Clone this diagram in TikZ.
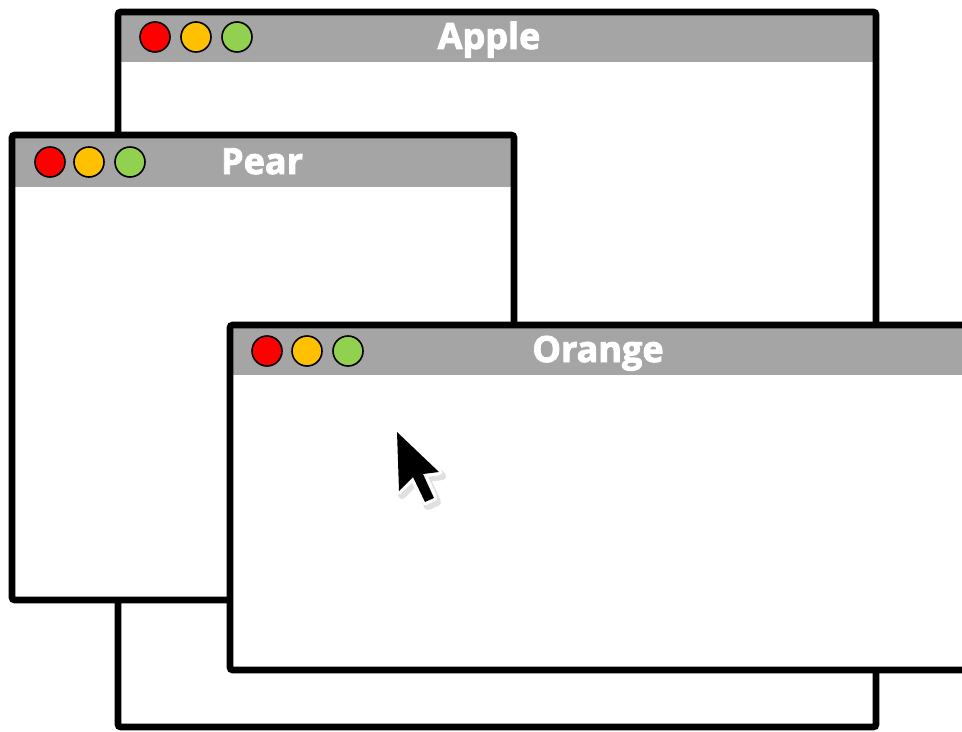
\documentclass[tikz,border=0pt]{standalone}
\usepackage{fontspec}
\setmainfont{Open Sans}
\font\titleraw="Open Sans/B:embolden=2.5" at 27pt
\definecolor{bargray}{HTML}{A5A5A5}
\definecolor{btnred}{HTML}{FF0000}
\definecolor{btnorange}{HTML}{FFC000}
\definecolor{btngreen}{HTML}{92D050}
\begin{document}
\begin{tikzpicture}[x=0.75pt,y=-0.75pt,
  winframe/.style={draw=black,line width=5pt,rounded corners=2pt},
  btn/.style={circle,draw=black,line width=1.2pt,minimum size=22.5pt,inner sep=0pt},
  wintitle/.style={text=white,font=\titleraw,inner sep=0pt,anchor=base}]
\useasboundingbox (0,0) rectangle (962,731);
\clip (0,0) rectangle (962,731);
% Apple
\fill[white] (118,12) rectangle (876,727);
\fill[bargray] (118,12) rectangle (876,62);
\draw[winframe] (118,12) rectangle (876,727);
\node[btn,fill=btnred] (a1) at (155,37) {};
\node[btn,fill=btnorange] (a2) at (196,37) {};
\node[btn,fill=btngreen] (a3) at (237,37) {};
\node[wintitle] (at) at (489,49) {Apple};
% Pear
\fill[white] (12,135) rectangle (514,600);
\fill[bargray] (12,135) rectangle (514,187);
\draw[winframe] (12,135) rectangle (514,600);
\node[btn,fill=btnred] (p1) at (50,162) {};
\node[btn,fill=btnorange] (p2) at (89,162) {};
\node[btn,fill=btngreen] (p3) at (130,162) {};
\node[wintitle] (pt) at (262,174) {Pear};
% Orange
\fill[white] (230,325) rectangle (1000,670);
\fill[bargray] (230,325) rectangle (1000,375);
\draw[winframe] (230,325) rectangle (1000,670);
\node[btn,fill=btnred] (o1) at (267,351) {};
\node[btn,fill=btnorange] (o2) at (307,351) {};
\node[btn,fill=btngreen] (o3) at (348,351) {};
\node[wintitle] (ot) at (598,362) {Orange};
% cursor
\def\cursorpath{(397,432) -- (399,491) -- (413,477) -- (425,502) -- (434,498) -- (423,474) -- (439,472) -- cycle}
\begin{scope}[shift={(3,4)}]
\fill[black!12,draw=black!12,line width=6pt,line join=round] \cursorpath;
\end{scope}
\fill[white,draw=white,line width=5pt,line join=round] \cursorpath;
\fill[black] \cursorpath;
\end{tikzpicture}
\end{document}
